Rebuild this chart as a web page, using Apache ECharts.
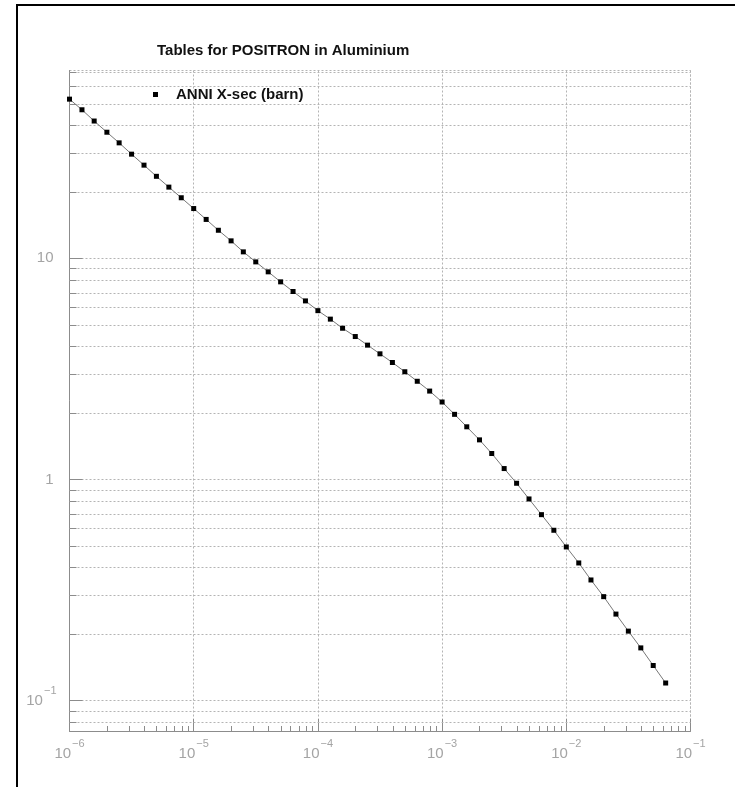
<!DOCTYPE html>
<html>
<head>
<meta charset="utf-8">
<script src="https://cdn.jsdelivr.net/npm/echarts@6/dist/echarts.min.js"></script>
<style>
  html, body { margin: 0; padding: 0; background: #fff; }
  #chart { width: 735px; height: 787px; }
</style>
</head>
<body>
<div id="chart"></div>
<script>
// kinetic energy (GeV) and annihilation cross-section (barn)
var energies = [
  1.00e-6, 1.26e-6, 1.58e-6, 2.00e-6, 2.51e-6, 3.16e-6, 3.98e-6, 5.01e-6, 6.31e-6, 7.94e-6,
  1.00e-5, 1.26e-5, 1.58e-5, 2.00e-5, 2.51e-5, 3.16e-5, 3.98e-5, 5.01e-5, 6.31e-5, 7.94e-5,
  1.00e-4, 1.26e-4, 1.58e-4, 2.00e-4, 2.51e-4, 3.16e-4, 3.98e-4, 5.01e-4, 6.31e-4, 7.94e-4,
  1.00e-3, 1.26e-3, 1.58e-3, 2.00e-3, 2.51e-3, 3.16e-3, 3.98e-3, 5.01e-3, 6.31e-3, 7.94e-3,
  1.00e-2, 1.26e-2, 1.58e-2, 2.00e-2, 2.51e-2, 3.16e-2, 3.98e-2, 5.01e-2, 6.31e-2
];
var anniXsec = [
  52.5, 47.0, 41.8, 37.2, 33.3, 29.6, 26.4, 23.5, 21.0, 18.8,
  16.8, 15.0, 13.4, 12.0, 10.7, 9.64, 8.69, 7.83, 7.08, 6.42,
  5.80, 5.31, 4.83, 4.43, 4.05, 3.70, 3.38, 3.07, 2.78, 2.51,
  2.24, 1.97, 1.73, 1.51, 1.31, 1.12, 0.961, 0.816, 0.693, 0.589,
  0.495, 0.419, 0.351, 0.295, 0.246, 0.206, 0.173, 0.144, 0.120
];
// minor grid lines on y, minor ticks on x
var yMinorLines = [0.08, 0.09,
  0.2, 0.3, 0.4, 0.5, 0.6, 0.7, 0.8, 0.9,
  2, 3, 4, 5, 6, 7, 8, 9,
  20, 30, 40, 50, 60, 70];
var xMinorTicks = [];
var xDecades = [1e-6, 1e-5, 1e-4, 1e-3, 1e-2];
var minorMults = [2, 3, 4, 5, 6, 7, 8, 9];
xDecades.forEach(function (d) {
  minorMults.forEach(function (m) { xMinorTicks.push(m * d); });
});

var xMin = 1e-6, xMax = 1e-1;
var yMin = 0.0728, yMax = 70.75;

var fontFam = '"Liberation Sans", Arial, sans-serif';
var gridColor = '#b4b4b4';
var axisColor = '#8c8c8c';
var labelColor = '#a4a4a4';

function expOf(v) { return Math.round(Math.log10(v)); }
function supText(e) { return (e < 0 ? '\u2212' : '') + Math.abs(e); }

var labelRich = {
  b: { fontSize: 15, padding: [8, 0, 0, 0], color: labelColor, fontFamily: fontFam },
  yb: { fontSize: 15, padding: [8, 0, 8, 0], color: labelColor, fontFamily: fontFam },
  s: { fontSize: 11, verticalAlign: 'top', padding: [0, 0, 0, 1], color: labelColor, fontFamily: fontFam },
  c: { fontSize: 15, padding: [0, 3, 0, 0], color: labelColor, fontFamily: fontFam }
};

function crisp(v) { return Math.round(v) + 0.5; }

var chart = echarts.init(document.getElementById('chart'));
chart.setOption({
  animation: false,
  backgroundColor: '#fff',
  title: {
    text: 'Tables for POSITRON in Aluminium',
    left: 157,
    top: 43,
    padding: 0,
    textStyle: { fontFamily: fontFam, fontSize: 15, fontWeight: 'bold', color: '#111' }
  },
  legend: {
    data: ['ANNI X-sec (barn)'],
    left: 153,
    top: 87,
    padding: 0,
    icon: 'rect',
    itemWidth: 5,
    itemHeight: 5,
    itemStyle: { color: '#000' },
    textStyle: { fontFamily: fontFam, fontSize: 15, fontWeight: 'bold', color: '#111', padding: [0, 0, 0, 13] }
  },
  grid: { left: 69.5, right: 44.5, top: 70.5, bottom: 56 },
  xAxis: {
    type: 'log',
    logBase: 10,
    min: xMin,
    max: xMax,
    axisLine: { lineStyle: { color: axisColor, width: 1 } },
    axisTick: { inside: true, length: 12, lineStyle: { color: axisColor } },
    axisLabel: {
      margin: 7,
      formatter: function (v) { return '{b|10}{s|' + supText(expOf(v)) + '}'; },
      rich: labelRich
    },
    splitLine: { show: true, lineStyle: { color: gridColor, type: [2, 2], width: 1 } }
  },
  yAxis: {
    type: 'log',
    logBase: 10,
    min: yMin,
    max: yMax,
    axisLine: { show: true, lineStyle: { color: axisColor, width: 1 } },
    axisTick: { inside: true, length: 13, lineStyle: { color: axisColor } },
    axisLabel: {
      margin: 13,
      showMinLabel: false,
      showMaxLabel: false,
      formatter: function (v) {
        var e = expOf(v);
        if (e === 0) return '{c|1}';
        if (e === 1) return '{c|10}';
        return '{yb|10}{s|' + supText(e) + '}';
      },
      rich: labelRich
    },
    splitLine: { show: true, lineStyle: { color: gridColor, type: [2, 2], width: 1 } }
  },
  graphic: [
    { type: 'line', shape: { x1: 16, y1: 5, x2: 735, y2: 5 }, style: { stroke: '#000', lineWidth: 2 } },
    { type: 'line', shape: { x1: 17, y1: 4, x2: 17, y2: 787 }, style: { stroke: '#000', lineWidth: 2 } }
  ],
  series: [
    {
      type: 'custom',
      silent: true,
      z: 1,
      data: yMinorLines.map(function (v) { return [xMin, v]; }),
      renderItem: function (params, api) {
        var v = api.value(1);
        var p0 = api.coord([xMin, v]);
        var p1 = api.coord([xMax, v]);
        var y = crisp(p0[1]);
        return {
          type: 'group',
          children: [
            { type: 'line', shape: { x1: p0[0], y1: y, x2: p1[0], y2: y },
              style: { stroke: gridColor, lineWidth: 1, lineDash: [2, 2] } },
            { type: 'line', shape: { x1: p0[0], y1: y, x2: p0[0] + 7, y2: y },
              style: { stroke: axisColor, lineWidth: 1 } }
          ]
        };
      }
    },
    {
      type: 'custom',
      silent: true,
      z: 1,
      data: xMinorTicks.map(function (v) { return [v, yMin]; }),
      renderItem: function (params, api) {
        var p = api.coord([api.value(0), yMin]);
        var x = crisp(p[0]);
        return { type: 'line', shape: { x1: x, y1: p[1], x2: x, y2: p[1] - 5 },
          style: { stroke: axisColor, lineWidth: 1 } };
      }
    },
    {
      name: 'ANNI X-sec (barn)',
      type: 'line',
      z: 3,
      data: energies.map(function (e, i) { return [e, anniXsec[i]]; }),
      symbol: 'rect',
      symbolSize: 5,
      showAllSymbol: true,
      itemStyle: { color: '#000' },
      lineStyle: { color: '#777', width: 1 }
    }
  ]
});
</script>
</body>
</html>
